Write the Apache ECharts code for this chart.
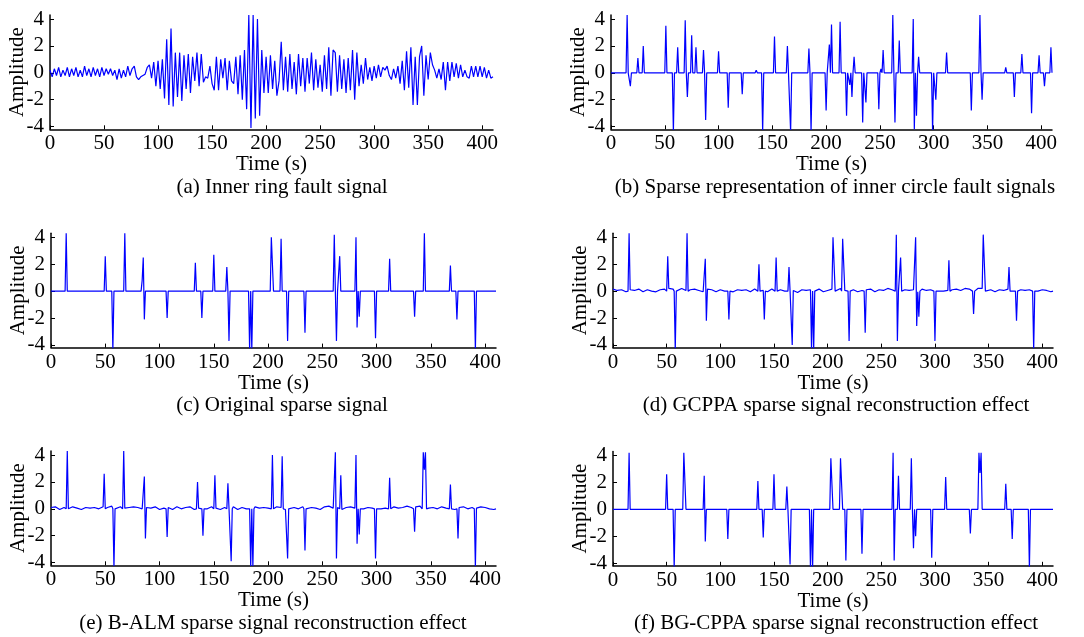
<!DOCTYPE html>
<html>
<head>
<meta charset="utf-8">
<script src="https://cdn.jsdelivr.net/npm/echarts@6/dist/echarts.min.js"></script>
<style>
    html, body { margin: 0; padding: 0; background: #fff; }
    #chartDiv { width: 1084px; height: 637px; }
</style>
</head>
<body>
<div id="chartDiv"></div>
<script>
const xTicks = [0, 50, 100, 150, 200, 250, 300, 350, 400];
const yTicks = [-4, -2, 0, 2, 4];
const timeMax = 410;

// (a) raw signal, one value every 2 s from 0 to 410
const stepA = 2;
const signalA = [
    0.2, -0.3, 0.3, -0.2, 0.4, -0.3, 0.2, -0.2, 0.4, -0.3,
    0.3, -0.2, 0.4, -0.3, 0.2, -0.3, 0.5, -0.2, 0.3, -0.3,
    0.4, -0.2, 0.3, -0.3, 0.4, -0.2, 0.3, -0.1, 0.3, -0.2,
    0.2, -0.5, 0.3, -0.4, 0.2, -0.3, 0.5, -0.2, 0.3, 0.5,
    -0.3, -0.5, -0.3, -0.2, -0.1, 0.4, 0.6, -0.4, 0.8, -1.0,
    0.9, -1.2, 1.0, -1.9, 2.5, -2.4, 3.3, -2.5, 1.5, -1.8,
    1.5, -2.1, 1.3, -1.2, 1.4, -1.5, 1.2, -0.6, 1.5, -1.0,
    1.4, -0.7, -0.3, -0.4, 0.5, -0.8, -1.3, 1.2, -1.3, 1.0,
    -0.4, 1.1, -1.3, 0.9, -0.6, -0.8, 1.2, -1.6, 1.3, -2.0,
    1.7, -2.7, 4.3, -4.1, 4.3, -3.4, 4.0, -3.2, 1.7, -1.5,
    1.2, -1.5, 1.3, -1.2, 0.9, -1.7, -0.6, 2.3, -1.3, 1.2,
    -1.4, 1.4, -1.2, 0.8, -1.6, 1.4, -1.0, 1.1, -1.4, 1.1,
    -0.8, 1.5, -1.3, 1.0, -1.1, 0.6, -1.4, 1.3, -1.2, 1.9,
    -1.7, 1.7, 1.5, -1.4, 1.3, -1.2, 1.0, -1.5, 1.1, -1.3,
    1.7, -2.0, 1.5, -1.0, 0.6, -0.8, 1.1, -0.5, 0.4, -0.6,
    0.5, -0.4, 0.6, -0.3, 0.4, 0.2, 0.5, -0.2, -0.5, 0.3,
    -0.4, 0.5, -0.8, 0.9, -1.3, 1.6, -1.1, 1.9, -2.4, 1.2,
    -2.4, 1.2, 2.0, -1.7, 1.3, -0.5, 1.5, 0.6, 0.2, -0.4,
    0.3, -0.5, 0.8, -1.3, 0.8, -0.6, 0.8, -0.3, 0.7, -0.4,
    0.6, -0.3, 0.2, -0.3, -0.4, 0.5, -0.3, 0.5, -0.3, 0.5,
    -0.3, 0.4, -0.4, 0.2, -0.4, -0.3
];

// sparse signals: [time, amplitude]
const spikesB = [
    [15, 4.3], [18, -1.0], [25, 1.1], [30, 2.0], [51, 3.5], [58, -4.4], [62, 1.9], [69, 3.9],
    [71, -1.8], [75, 2.8], [79, 1.9], [86, 1.7], [88, -3.5], [100, 1.6], [109, -2.6], [122, -1.6],
    [135, 0.2], [141, -4.4], [152, 2.7], [164, 2.0], [167, -4.4], [184, 1.8], [186, -4.4], [200, -2.8],
    [203, 2.1], [205, 3.6], [213, 3.8], [219, -3.2], [222, -0.9], [224, -1.8], [226, 1.2], [234, -3.7],
    [237, -2.2], [249, -2.7], [251, 0.3], [253, 1.7], [262, 4.3], [264, -3.7], [268, 2.4], [281, 4.0],
    [282, -4.2], [284, -3.2], [286, 1.2], [299, -4.4], [302, -2.0], [312, 1.5], [335, -2.8], [343, 4.3],
    [345, -2.0], [367, 0.4], [375, -1.8], [382, 1.4], [391, -3.0], [398, 1.3], [403, -1.0], [409, 1.9]
];
const spikesC = [
    [14, 4.3], [50, 2.6], [57, -4.4], [68, 4.3], [84, 0.8], [85, 2.5], [86, -2.1], [107, -2.0],
    [133, 2.1], [139, -2.0], [150, 2.7], [162, 1.8], [164, -3.7], [183, -4.4], [185, -4.4], [203, 4.0],
    [204, 3.9], [212, 3.9], [218, -3.7], [234, -3.1], [261, 4.2], [263, -3.7], [266, 2.6], [281, 4.0],
    [282, -2.7], [284, -1.9], [299, -3.5], [312, 2.4], [335, -1.9], [344, 4.3], [368, 1.9], [374, -2.1],
    [391, -4.4]
];
const spikesD = [
    [15, 4.3], [51, 2.6], [58, -4.4], [69, 4.3], [86, 2.4], [87, -2.2], [108, -2.1], [136, 2.0],
    [141, -2.1], [152, 2.5], [164, 1.8], [167, -4.0], [185, -4.4], [187, -4.4], [205, 4.0], [206, 4.0],
    [214, 3.9], [215, 3.9], [220, -3.7], [235, -3.1], [264, 4.2], [265, -3.7], [268, 2.5], [282, 4.0],
    [283, -2.6], [285, -1.9], [300, -3.7], [313, 2.3], [336, -1.7], [345, 4.2], [346, 4.2], [369, 1.8],
    [376, -2.2], [392, -4.4]
];
const spikesE = [
    [15, 4.3], [49, 2.6], [58, -4.4], [67, 4.3], [86, 2.4], [87, -2.2], [107, -2.1], [135, 2.0],
    [140, -2.0], [151, 2.5], [163, 1.9], [166, -3.9], [184, -4.4], [186, -4.4], [204, 4.0], [213, 3.9],
    [218, -3.7], [234, -3.1], [262, 4.2], [263, -3.7], [267, 2.5], [281, 4.0], [282, -2.6], [284, -1.9],
    [299, -3.7], [312, 2.3], [335, -1.7], [343, 4.2], [344, 2.9], [345, 4.2], [368, 1.8], [375, -2.2],
    [391, -4.4]
];
const spikesF = [
    [15, 4.2], [50, 2.6], [57, -4.4], [66, 4.2], [67, 4.2], [85, 2.5], [86, -2.4], [107, -2.2],
    [135, 2.1], [140, -2.1], [150, 2.6], [162, 1.7], [165, -4.1], [184, -4.4], [186, -4.4], [203, 3.8],
    [204, 3.8], [212, 3.8], [213, 3.8], [217, -3.8], [232, -3.3], [261, 4.2], [262, -3.8], [266, 2.5],
    [278, 3.8], [280, -2.9], [282, -2.0], [297, -3.6], [310, 2.4], [333, -1.8], [341, 4.2], [342, 2.7],
    [343, 4.2], [366, 1.9], [372, -2.2], [388, -4.4]
];

// small reconstruction residual on the baseline, one value every 4 s
const residStep = 4;
const residD = [
    0.15, 0.05, 0.1, -0.05, 0.1, 0.05, 0.15, -0.05, 0.1, 0.0,
    -0.05, 0.1, 0.15, 0.2, 0.15, -0.1, 0.2, 0.05, 0.1, 0.15,
    0.05, -0.05, 0.15, 0.1, -0.05, 0.1, 0.0, 0.15, -0.05, 0.1,
    0.05, 0.1, -0.05, 0.15, 0.1, 0.05, -0.05, 0.15, 0.05, 0.1,
    0.0, 0.15, 0.05, -0.1, 0.1, 0.05, 0.1, 0.0, 0.15, -0.05,
    0.05, 0.15, 0.1, 0.2, 0.05, -0.1, 0.1, -0.05, 0.05, 0.1,
    0.15, -0.05, 0.1, 0.05, 0.2, 0.1, 0.15, 0.0, 0.1, 0.05,
    0.1, -0.05, 0.15, 0.05, 0.1, 0.0, 0.0, 0.0, 0.05, 0.1,
    0.15, 0.05, 0.2, 0.15, 0.1, 0.2, 0.2, 0.05, 0.1, -0.05,
    0.1, 0.05, 0.15, 0.0, -0.05, 0.1, 0.05, 0.1, 0.15, 0.0,
    0.1, 0.05, -0.05
];
const residE = [
    0.1, 0.15, -0.05, 0.1, 0.0, 0.15, 0.05, -0.05, 0.1, 0.05,
    0.1, 0.0, 0.15, 0.1, 0.2, -0.05, 0.15, 0.05, 0.1, 0.15,
    0.1, 0.0, 0.1, 0.05, 0.15, -0.05, 0.05, 0.1, -0.05, 0.15,
    0.0, 0.1, 0.15, -0.05, 0.05, 0.1, 0.0, 0.15, 0.05, -0.05,
    0.1, 0.05, 0.15, -0.05, 0.1, 0.0, 0.1, 0.15, 0.05, 0.1,
    0.05, 0.1, 0.15, 0.1, -0.05, 0.05, 0.1, 0.0, 0.15, 0.05,
    0.1, 0.05, -0.05, 0.15, 0.2, 0.05, 0.1, -0.05, 0.1, 0.15,
    0.05, 0.15, 0.0, 0.1, 0.05, 0.0, 0.0, 0.05, 0.1, 0.15,
    0.05, 0.1, 0.2, 0.1, 0.15, 0.2, 0.15, 0.05, 0.1, 0.0,
    0.15, 0.05, 0.1, -0.05, 0.1, 0.15, 0.0, 0.1, 0.05, 0.15,
    0.1, 0.0, -0.05
];

const fontFamily = '"Liberation Serif", "Times New Roman", serif';
const fontSize = 21;

// sampled sparse signal: zero samples on both sides of each spike
function buildSparse(spikes, resid) {
    let pts = {};
    resid.forEach((v, i) => { pts[i * residStep] = v; });
    let hit = {};
    spikes.forEach(([t, v]) => { hit[t] = v; });
    spikes.forEach(([t]) => {
        [t - 1, t + 1].forEach((n) => {
            if (n >= 0 && n <= timeMax && !(n in pts) && !(n in hit)) pts[n] = 0;
        });
    });
    Object.assign(pts, hit);
    if (!(0 in pts)) pts[0] = 0;
    if (!(timeMax in pts)) pts[timeMax] = 0;
    return Object.keys(pts).map(Number).sort((a, b) => a - b).map((t) => [t, pts[t]]);
}

let panels = [
    { grid: { left: 50, top: 15, width: 443, height: 114.3 }, caption: "(a) Inner ring fault signal", cx: 282, cy: 187.5,
      data: signalA.map((v, i) => [i * stepA, v]) },
    { grid: { left: 611, top: 15, width: 441, height: 114.3 }, caption: "(b) Sparse representation of inner circle fault signals", cx: 835, cy: 187.5,
      data: buildSparse(spikesB, []) },
    { grid: { left: 51, top: 233.3, width: 445, height: 114.3 }, caption: "(c) Original sparse signal", cx: 282, cy: 405,
      data: buildSparse(spikesC, []) },
    { grid: { left: 613, top: 233.3, width: 440, height: 114.3 }, caption: "(d) GCPPA sparse signal reconstruction effect", cx: 836, cy: 405,
      data: buildSparse(spikesD, residD) },
    { grid: { left: 51, top: 451, width: 445, height: 114.3 }, caption: "(e) B-ALM sparse signal reconstruction effect", cx: 273, cy: 623,
      data: buildSparse(spikesE, residE) },
    { grid: { left: 613, top: 451.5, width: 440, height: 114.3 }, caption: "(f) BG-CPPA sparse signal reconstruction effect", cx: 836, cy: 623,
      data: buildSparse(spikesF, []) },
];

let textStyle = { fontFamily: fontFamily, fontSize: fontSize, color: "#000" };

let chart = echarts.init(document.getElementById("chartDiv"));
let options = {
    backgroundColor: "#fff",
    animation: false,
    grid: panels.map((p) => p.grid),
    xAxis: panels.map((p, i) => ({
        gridIndex: i,
        type: "value",
        min: 0,
        max: timeMax,
        name: "Time (s)",
        nameLocation: "middle",
        nameGap: 25,
        nameMoveOverlap: false,
        nameTextStyle: textStyle,
        axisLine: { onZero: false, lineStyle: { color: "#000", width: 1.5 } },
        axisTick: { inside: true, length: 4, customValues: xTicks, lineStyle: { color: "#000" } },
        axisLabel: Object.assign({ customValues: xTicks, margin: 4 }, textStyle),
        splitLine: { show: false },
    })),
    yAxis: panels.map((p, i) => ({
        gridIndex: i,
        type: "value",
        min: -4.2,
        max: 4.3,
        name: "Amplitude",
        nameLocation: "middle",
        nameGap: 22,
        nameMoveOverlap: false,
        nameTextStyle: textStyle,
        axisLine: { lineStyle: { color: "#000", width: 1.5 } },
        axisTick: { inside: true, length: 4, customValues: yTicks, lineStyle: { color: "#000" } },
        axisLabel: Object.assign({ customValues: yTicks, margin: 6 }, textStyle),
        splitLine: { show: false },
    })),
    series: panels.map((p, i) => ({
        type: "line",
        xAxisIndex: i,
        yAxisIndex: i,
        data: p.data,
        showSymbol: false,
        symbol: "none",
        clip: true,
        lineStyle: { color: "#0000ff", width: 1.2 },
    })),
    graphic: panels.map((p) => ({
        type: "text",
        x: p.cx,
        y: p.cy,
        style: {
            text: p.caption,
            fill: "#000",
            font: fontSize + "px " + fontFamily,
            align: "center",
            verticalAlign: "middle",
        },
    })),
};
chart.setOption(options);
</script>
</body>
</html>
